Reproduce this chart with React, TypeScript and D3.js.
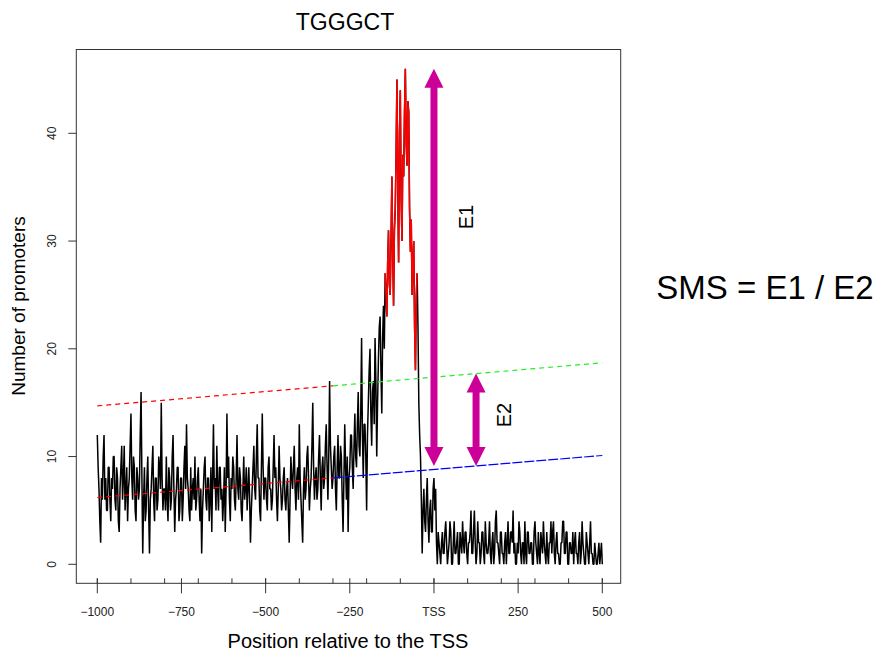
import React from "react";
import * as d3 from "d3";

// ---- data ----
const positionStart = -1000;
const positionStep = 2.5;
const promoterCounts: number[] = [
  // -1000 .. -300
  12, 9, 7, 4, 2, 8, 6, 10, 12, 6, 8, 5, 5, 9, 9, 6, 4, 8, 7, 10,
  10, 6, 5, 9, 8, 4, 3, 7, 9, 11, 6, 8, 11, 5, 7, 9, 4, 7, 8, 11,
  14, 8, 6, 10, 9, 5, 4, 9, 8, 6, 7, 12, 16, 8, 1, 6, 9, 4, 5, 8,
  10, 5, 1, 6, 7, 9, 11, 6, 4, 8, 8, 5, 6, 10, 9, 7, 15, 8, 5, 7,
  7, 5, 10, 6, 4, 9, 8, 5, 6, 10, 12, 7, 3, 6, 7, 9, 9, 4, 5, 8,
  8, 4, 6, 9, 11, 7, 13, 8, 7, 5, 4, 9, 5, 7, 8, 6, 10, 5, 6, 8,
  9, 6, 4, 7, 1, 5, 7, 9, 10, 6, 5, 8, 8, 4, 6, 9, 3, 8, 13, 7,
  8, 5, 11, 7, 5, 9, 9, 6, 7, 4, 6, 9, 3, 7, 14, 8, 10, 6, 4, 8,
  7, 10, 9, 6, 5, 8, 12, 7, 6, 9, 8, 5, 4, 7, 10, 6, 7, 9, 5, 7,
  9, 6, 2, 5, 7, 9, 11, 7, 6, 10, 13, 8, 8, 5, 4, 9, 14, 9, 6, 8,
  8, 6, 5, 9, 10, 7, 7, 5, 6, 9, 12, 8, 9, 6, 4, 7, 11, 8, 7, 5,
  6, 8, 9, 6, 5, 7, 8, 5, 2, 6, 10, 8, 7, 9, 11, 7, 5, 8, 9, 6,
  13, 8, 6, 4, 2, 7, 9, 6, 7, 10, 11, 8, 5, 7, 8, 11, 15, 9, 6, 8,
  9, 6, 7, 10, 12, 8, 5, 9, 10, 7, 8, 11, 13, 9, 6, 10, 17, 11, 9, 7,
  8, 10,
  // -295 .. -150
  11, 7, 5, 9, 12, 8, 8, 11, 10, 6, 3, 8, 13, 9, 6, 10, 3, 8, 9, 12,
  12, 9, 7, 11, 14, 10, 9, 13, 16, 11, 10, 14, 21, 12, 8, 13, 13, 10, 5, 12,
  15, 18, 20, 14, 11, 16, 17, 13, 21, 17, 10, 15, 19, 22, 23, 18, 14, 21, 24, 20,
  // -145 .. -50 (peak)
  27, 25, 23, 28, 31, 26, 25, 30, 36, 29, 24, 31, 33, 38, 45, 35, 28, 40, 44, 34,
  30, 38, 36, 42, 46, 39, 37, 43, 42, 33, 29, 32, 25, 28, 30, 22, 18, 25, 27, 22,
  // -45 .. 0
  15, 12, 10, 6, 1, 5, 7, 4, 3, 6, 8, 4, 2, 5, 6, 3, 3, 7, 8, 5,
  // 5 .. 500
  7, 2, 0, 3,
  2, 1, 0, 2, 3, 1, 1, 3, 4, 2, 0, 1, 2, 4, 3, 0, 0, 2, 4, 1,
  1, 2, 3, 0, 0, 3, 2, 1, 4, 2, 1, 3, 3, 1, 0, 2, 2, 3, 5, 1,
  1, 3, 5, 2, 0, 1, 4, 2, 2, 0, 1, 3, 3, 1, 0, 4, 2, 1, 1, 2,
  4, 1, 0, 2, 3, 0, 1, 4, 5, 2, 2, 1, 0, 3, 3, 1, 1, 0, 2, 3,
  0, 2, 4, 1, 1, 3, 3, 2, 5, 1, 2, 0, 0, 2, 1, 4, 3, 1, 0, 2,
  2, 0, 4, 1, 0, 3, 3, 1, 1, 2, 2, 0, 0, 3, 4, 2, 1, 0, 3, 1,
  0, 3, 2, 1, 4, 2, 1, 0, 3, 1, 0, 2, 2, 4, 1, 3, 4, 1, 0, 2,
  3, 1, 1, 0, 0, 2, 2, 4, 4, 1, 1, 3, 3, 0, 0, 2, 2, 1, 1, 3,
  0, 2, 3, 1, 1, 0, 2, 3, 0, 1, 4, 2, 1, 0, 0, 3, 2, 1, 0, 2,
  4, 1, 1, 0, 0, 2, 1, 0, 0, 1, 2, 0, 1, 2, 0,
];
const peakRange = [-145, -50];
const fitRange = [-1000, 500];
const lowerFit = [6.2, 10.1];
const upperFit = [14.7, 18.7];
const fitSplit = -300;
const e2Position = 125;
const xTickValues = [-1000, -750, -500, -250, 0, 250, 500];
const xTickLabels = ["\u22121000", "\u2212750", "\u2212500", "\u2212250", "TSS", "250", "500"];
const xMinorTicks = [-1000, -900, -800, -700, -600, -500, -400, -300, -200, -100, 0, 100, 200, 300, 400, 500];
const yTickValues = [0, 10, 20, 30, 40];

const FONT = "'Liberation Sans', Arial, Helvetica, sans-serif";
const MAGENTA = "#CC0099";

type Pt = { pos: number; v: number };

export default function App() {
  const x = d3.scaleLinear().domain([-1000, 500]).range([97.3, 602.3]);
  const y = d3.scaleLinear().domain([0, 40]).range([564.3, 133.3]);

  const series: Pt[] = promoterCounts.map((v, i) => ({ pos: positionStart + i * positionStep, v }));
  const peak = series.filter((d) => d.pos >= peakRange[0] && d.pos <= peakRange[1]);

  const line = d3
    .line<Pt>()
    .x((d) => x(d.pos))
    .y((d) => y(d.v));

  const fitAt = (fit: number[], p: number) =>
    fit[0] + ((fit[1] - fit[0]) * (p - fitRange[0])) / (fitRange[1] - fitRange[0]);

  const seg = (fit: number[], a: number, b: number) =>
    line([
      { pos: a, v: fitAt(fit, a) },
      { pos: b, v: fitAt(fit, b) },
    ]) as string;

  const box = { left: 76.3, right: 620.7, top: 49.5, bottom: 583.3 };

  const maxCount = d3.max(promoterCounts) as number;
  const e1 = { x: x(0), top: y(maxCount), bottom: y(fitAt(lowerFit, e2Position)) };
  const e2 = {
    x: x(e2Position),
    top: y(fitAt(upperFit, e2Position)),
    bottom: y(fitAt(lowerFit, e2Position)),
  };

  const arrow = (ax: number, top: number, bottom: number, key: string) => {
    const hl = 19;
    const hw = 9.5;
    const sw = 7;
    return (
      <g key={key} fill={MAGENTA} stroke="none">
        <rect x={ax - sw / 2} y={top + hl - 1} width={sw} height={bottom - top - 2 * hl + 2} />
        <path d={`M${ax},${top} L${ax + hw},${top + hl} L${ax - hw},${top + hl} Z`} />
        <path d={`M${ax},${bottom} L${ax + hw},${bottom - hl} L${ax - hw},${bottom - hl} Z`} />
      </g>
    );
  };

  return (
    <svg
      width={875}
      height={653}
      style={{ position: "absolute", left: 0, top: 0, background: "#fff" }}
      fontFamily={FONT}
    >
      <rect x={0} y={0} width={875} height={653} fill="#fff" />
      {/* title */}
      <text x={345} y={30} fontSize={23} textAnchor="middle" fill="#000">
        TGGGCT
      </text>

      {/* plot frame */}
      <rect
        x={box.left}
        y={box.top}
        width={box.right - box.left}
        height={box.bottom - box.top}
        fill="none"
        stroke="#333"
        strokeWidth={1}
      />

      {/* data */}
      <path d={line(series) as string} fill="none" stroke="#000" strokeWidth={1.5} strokeLinejoin="bevel" />
      <path d={line(peak) as string} fill="none" stroke="#FF0000" strokeWidth={1.5} strokeLinejoin="bevel" />

      {/* fitted lines */}
      <path d={seg(upperFit, fitRange[0], fitSplit)} stroke="#FF0000" strokeWidth={1.2} strokeDasharray="5 4" fill="none" />
      <path d={seg(upperFit, fitSplit, fitRange[1])} stroke="#22EE22" strokeWidth={1.2} strokeDasharray="5 4" fill="none" />
      <path d={seg(lowerFit, fitRange[0], fitSplit)} stroke="#FF0000" strokeWidth={1.2} strokeDasharray="5 4" fill="none" />
      <path d={seg(lowerFit, fitSplit, fitRange[1])} stroke="#0000FF" strokeWidth={1.2} strokeDasharray="10 2" fill="none" />

      {/* arrows */}
      {arrow(e1.x, e1.top, e1.bottom, "e1")}
      {arrow(e2.x, e2.top, e2.bottom, "e2")}
      <text
        transform={`translate(${e1.x + 32},${217}) rotate(-90)`}
        fontSize={20}
        textAnchor="middle"
        dy="0.35em"
        fill="#000"
      >
        E1
      </text>
      <text
        transform={`translate(${e2.x + 28},${415}) rotate(-90)`}
        fontSize={20}
        textAnchor="middle"
        dy="0.35em"
        fill="#000"
      >
        E2
      </text>

      {/* x axis */}
      {xMinorTicks.map((t) => (
        <line key={`m${t}`} x1={x(t)} x2={x(t)} y1={box.bottom - 5} y2={box.bottom} stroke="#333" strokeWidth={1} />
      ))}
      {xTickValues.map((t, i) => (
        <g key={`t${t}`}>
          <line x1={x(t)} x2={x(t)} y1={box.bottom - 5} y2={box.bottom + 10} stroke="#333" strokeWidth={1} />
          <text x={x(t)} y={616} fontSize={12} textAnchor="middle" fill="#222">
            {xTickLabels[i]}
          </text>
        </g>
      ))}
      <text x={348} y={648} fontSize={20} textAnchor="middle" fill="#000">
        Position relative to the TSS
      </text>

      {/* y axis */}
      {yTickValues.map((t) => (
        <g key={`y${t}`}>
          <line x1={box.left - 8} x2={box.left} y1={y(t)} y2={y(t)} stroke="#333" strokeWidth={1} />
          <text transform={`translate(52,${y(t)}) rotate(-90)`} fontSize={12} textAnchor="middle" dy="0.35em" fill="#222">
            {t}
          </text>
        </g>
      ))}
      <text transform={`translate(18,306) rotate(-90)`} fontSize={19} textAnchor="middle" dy="0.35em" fill="#000">
        Number of promoters
      </text>

      {/* formula */}
      <text x={765} y={299} fontSize={33} textAnchor="middle" fill="#000">
        SMS = E1 / E2
      </text>
    </svg>
  );
}
